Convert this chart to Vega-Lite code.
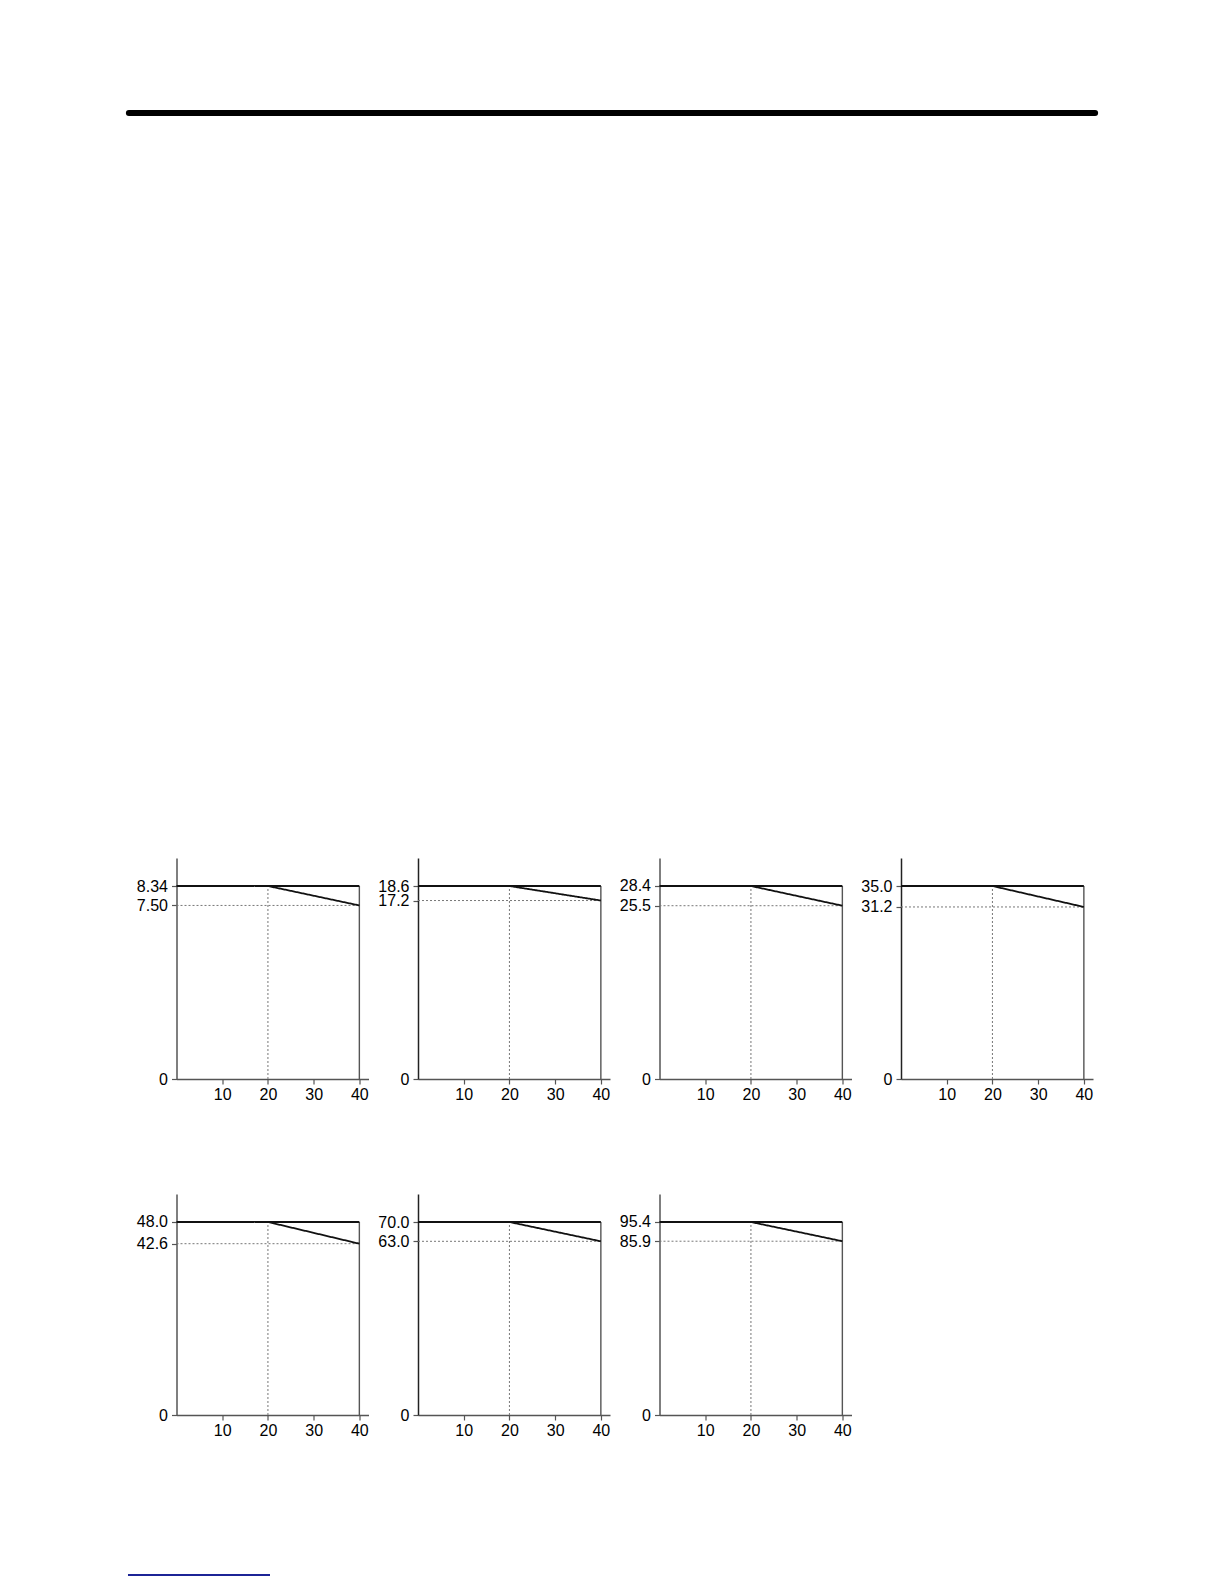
{
  "$schema": "https://vega.github.io/schema/vega-lite/v6.json",
  "background": "white",
  "padding": {"left": 125, "top": 110, "right": 5, "bottom": 2},
  "bounds": "flush",
  "spacing": 336,
  "config": {
    "view": {"stroke": null},
    "axis": {
      "grid": false,
      "title": null,
      "domainColor": "#555555",
      "domainWidth": 1.5,
      "tickColor": "#555555",
      "tickWidth": 1.2,
      "tickSize": 5,
      "labelFont": "Liberation Sans",
      "labelColor": "black",
      "labelOverlap": false,
      "labelFlush": false,
      "labelBound": false
    },
    "axisX": {"labelFontSize": 16, "labelPadding": 2},
    "axisY": {"labelFontSize": 16, "labelPadding": 4, "labelExpr": "datum.value == 0 ? '0' : format(datum.value, '.3r')"},
    "rule": {"strokeCap": "butt"}
  },
  "datasets": {
    "page": [
      {"part": "header", "start": 0, "end": 1, "level": 1},
      {"part": "footer", "start": 0, "end": 1, "level": 0}
    ],
    "segments": [
      {"id": 1, "kind": "dotted", "load": 20, "output": 0, "load_end": 20, "output_end": 8.34},
      {"id": 1, "kind": "dotted", "load": 0, "output": 7.50, "load_end": 40, "output_end": 7.50},
      {"id": 1, "kind": "edge", "load": 40, "output": 0, "load_end": 40, "output_end": 8.34},
      {"id": 1, "kind": "solid", "load": 0, "output": 8.34, "load_end": 40, "output_end": 8.34},
      {"id": 1, "kind": "solid", "load": 20, "output": 8.34, "load_end": 40, "output_end": 7.50},
      {"id": 2, "kind": "dotted", "load": 20, "output": 0, "load_end": 20, "output_end": 18.6},
      {"id": 2, "kind": "dotted", "load": 0, "output": 17.2, "load_end": 40, "output_end": 17.2},
      {"id": 2, "kind": "edge", "load": 40, "output": 0, "load_end": 40, "output_end": 18.6},
      {"id": 2, "kind": "solid", "load": 0, "output": 18.6, "load_end": 40, "output_end": 18.6},
      {"id": 2, "kind": "solid", "load": 20, "output": 18.6, "load_end": 40, "output_end": 17.2},
      {"id": 3, "kind": "dotted", "load": 20, "output": 0, "load_end": 20, "output_end": 28.4},
      {"id": 3, "kind": "dotted", "load": 0, "output": 25.5, "load_end": 40, "output_end": 25.5},
      {"id": 3, "kind": "edge", "load": 40, "output": 0, "load_end": 40, "output_end": 28.4},
      {"id": 3, "kind": "solid", "load": 0, "output": 28.4, "load_end": 40, "output_end": 28.4},
      {"id": 3, "kind": "solid", "load": 20, "output": 28.4, "load_end": 40, "output_end": 25.5},
      {"id": 4, "kind": "dotted", "load": 20, "output": 0, "load_end": 20, "output_end": 35.0},
      {"id": 4, "kind": "dotted", "load": 0, "output": 31.2, "load_end": 40, "output_end": 31.2},
      {"id": 4, "kind": "edge", "load": 40, "output": 0, "load_end": 40, "output_end": 35.0},
      {"id": 4, "kind": "solid", "load": 0, "output": 35.0, "load_end": 40, "output_end": 35.0},
      {"id": 4, "kind": "solid", "load": 20, "output": 35.0, "load_end": 40, "output_end": 31.2},
      {"id": 5, "kind": "dotted", "load": 20, "output": 0, "load_end": 20, "output_end": 48.0},
      {"id": 5, "kind": "dotted", "load": 0, "output": 42.6, "load_end": 40, "output_end": 42.6},
      {"id": 5, "kind": "edge", "load": 40, "output": 0, "load_end": 40, "output_end": 48.0},
      {"id": 5, "kind": "solid", "load": 0, "output": 48.0, "load_end": 40, "output_end": 48.0},
      {"id": 5, "kind": "solid", "load": 20, "output": 48.0, "load_end": 40, "output_end": 42.6},
      {"id": 6, "kind": "dotted", "load": 20, "output": 0, "load_end": 20, "output_end": 70.0},
      {"id": 6, "kind": "dotted", "load": 0, "output": 63.0, "load_end": 40, "output_end": 63.0},
      {"id": 6, "kind": "edge", "load": 40, "output": 0, "load_end": 40, "output_end": 70.0},
      {"id": 6, "kind": "solid", "load": 0, "output": 70.0, "load_end": 40, "output_end": 70.0},
      {"id": 6, "kind": "solid", "load": 20, "output": 70.0, "load_end": 40, "output_end": 63.0},
      {"id": 7, "kind": "dotted", "load": 20, "output": 0, "load_end": 20, "output_end": 95.4},
      {"id": 7, "kind": "dotted", "load": 0, "output": 85.9, "load_end": 40, "output_end": 85.9},
      {"id": 7, "kind": "edge", "load": 40, "output": 0, "load_end": 40, "output_end": 95.4},
      {"id": 7, "kind": "solid", "load": 0, "output": 95.4, "load_end": 40, "output_end": 95.4},
      {"id": 7, "kind": "solid", "load": 20, "output": 95.4, "load_end": 40, "output_end": 85.9}
    ]
  },
  "vconcat": [
    {
      "width": 972,
      "height": 409,
      "data": {"name": "page"},
      "transform": [{"filter": "datum.part == 'header'"}],
      "mark": {"type": "rule", "color": "black", "strokeWidth": 6, "strokeCap": "round"},
      "encoding": {
        "x": {"field": "start", "type": "quantitative", "scale": {"domain": [-0.003, 1.003]}, "axis": null},
        "x2": {"field": "end"},
        "y": {"field": "level", "type": "quantitative", "scale": {"domain": [0, 1]}, "axis": null}
      }
    },
    {
      "bounds": "flush",
      "spacing": 49.5,
      "hconcat": [
        {"width": 1, "height": 221, "data": {"name": "page"}, "transform": [{"filter": "datum.part == 'header'"}],
         "mark": {"type": "rule", "opacity": 0},
         "encoding": {"y": {"field": "level", "type": "quantitative", "axis": null}}},
        {
          "width": 192, "height": 221,
          "data": {"name": "segments"},
          "transform": [{"filter": "datum.id == 1"}],
          "mark": "rule",
          "encoding": {
            "x": {"field": "load", "type": "quantitative", "scale": {"domain": [0, 42], "nice": false}, "axis": {"values": [10, 20, 30, 40]}},
            "x2": {"field": "load_end"},
            "y": {"field": "output", "type": "quantitative", "scale": {"domain": [0, 9.55], "nice": false}, "axis": {"values": [0, 7.5, 8.34]}},
            "y2": {"field": "output_end"},
            "color": {"field": "kind", "type": "nominal", "scale": {"domain": ["dotted", "edge", "solid"], "range": ["#777777", "#555555", "#111111"]}, "legend": null},
            "strokeDash": {"field": "kind", "type": "nominal", "scale": {"domain": ["dotted", "edge", "solid"], "range": [[2, 2], [1, 0], [1, 0]]}, "legend": null},
            "strokeWidth": {"field": "kind", "type": "nominal", "scale": {"domain": ["dotted", "edge", "solid"], "range": [1, 1.8, 1.5]}, "legend": null}
          }
        },
        {
          "width": 192, "height": 221,
          "data": {"name": "segments"},
          "transform": [{"filter": "datum.id == 2"}],
          "mark": "rule",
          "encoding": {
            "x": {"field": "load", "type": "quantitative", "scale": {"domain": [0, 42], "nice": false}, "axis": {"values": [10, 20, 30, 40]}},
            "x2": {"field": "load_end"},
            "y": {"field": "output", "type": "quantitative", "scale": {"domain": [0, 21.3], "nice": false}, "axis": {"values": [0, 17.2, 18.6], "domainColor": "#222222"}},
            "y2": {"field": "output_end"},
            "color": {"field": "kind", "type": "nominal", "scale": {"domain": ["dotted", "edge", "solid"], "range": ["#777777", "#333333", "#111111"]}, "legend": null},
            "strokeDash": {"field": "kind", "type": "nominal", "scale": {"domain": ["dotted", "edge", "solid"], "range": [[2, 2], [1, 0], [1, 0]]}, "legend": null},
            "strokeWidth": {"field": "kind", "type": "nominal", "scale": {"domain": ["dotted", "edge", "solid"], "range": [1, 1.4, 1.5]}, "legend": null}
          }
        },
        {
          "width": 192, "height": 221,
          "data": {"name": "segments"},
          "transform": [{"filter": "datum.id == 3"}],
          "mark": "rule",
          "encoding": {
            "x": {"field": "load", "type": "quantitative", "scale": {"domain": [0, 42], "nice": false}, "axis": {"values": [10, 20, 30, 40]}},
            "x2": {"field": "load_end"},
            "y": {"field": "output", "type": "quantitative", "scale": {"domain": [0, 32.52], "nice": false}, "axis": {"values": [0, 25.5, 28.4]}},
            "y2": {"field": "output_end"},
            "color": {"field": "kind", "type": "nominal", "scale": {"domain": ["dotted", "edge", "solid"], "range": ["#777777", "#555555", "#111111"]}, "legend": null},
            "strokeDash": {"field": "kind", "type": "nominal", "scale": {"domain": ["dotted", "edge", "solid"], "range": [[2, 2], [1, 0], [1, 0]]}, "legend": null},
            "strokeWidth": {"field": "kind", "type": "nominal", "scale": {"domain": ["dotted", "edge", "solid"], "range": [1, 1.8, 1.5]}, "legend": null}
          }
        },
        {
          "width": 192, "height": 221,
          "data": {"name": "segments"},
          "transform": [{"filter": "datum.id == 4"}],
          "mark": "rule",
          "encoding": {
            "x": {"field": "load", "type": "quantitative", "scale": {"domain": [0, 42], "nice": false}, "axis": {"values": [10, 20, 30, 40]}},
            "x2": {"field": "load_end"},
            "y": {"field": "output", "type": "quantitative", "scale": {"domain": [0, 40.08], "nice": false}, "axis": {"values": [0, 31.2, 35.0], "domainColor": "#222222"}},
            "y2": {"field": "output_end"},
            "color": {"field": "kind", "type": "nominal", "scale": {"domain": ["dotted", "edge", "solid"], "range": ["#777777", "#555555", "#111111"]}, "legend": null},
            "strokeDash": {"field": "kind", "type": "nominal", "scale": {"domain": ["dotted", "edge", "solid"], "range": [[2, 2], [1, 0], [1, 0]]}, "legend": null},
            "strokeWidth": {"field": "kind", "type": "nominal", "scale": {"domain": ["dotted", "edge", "solid"], "range": [1, 1.8, 1.5]}, "legend": null}
          }
        }
      ]
    },
    {
      "bounds": "flush",
      "spacing": 49.5,
      "hconcat": [
        {"width": 1, "height": 221, "data": {"name": "page"}, "transform": [{"filter": "datum.part == 'header'"}],
         "mark": {"type": "rule", "opacity": 0},
         "encoding": {"y": {"field": "level", "type": "quantitative", "axis": null}}},
        {
          "width": 192, "height": 221,
          "data": {"name": "segments"},
          "transform": [{"filter": "datum.id == 5"}],
          "mark": "rule",
          "encoding": {
            "x": {"field": "load", "type": "quantitative", "scale": {"domain": [0, 42], "nice": false}, "axis": {"values": [10, 20, 30, 40]}},
            "x2": {"field": "load_end"},
            "y": {"field": "output", "type": "quantitative", "scale": {"domain": [0, 54.96], "nice": false}, "axis": {"values": [0, 42.6, 48.0]}},
            "y2": {"field": "output_end"},
            "color": {"field": "kind", "type": "nominal", "scale": {"domain": ["dotted", "edge", "solid"], "range": ["#777777", "#555555", "#111111"]}, "legend": null},
            "strokeDash": {"field": "kind", "type": "nominal", "scale": {"domain": ["dotted", "edge", "solid"], "range": [[2, 2], [1, 0], [1, 0]]}, "legend": null},
            "strokeWidth": {"field": "kind", "type": "nominal", "scale": {"domain": ["dotted", "edge", "solid"], "range": [1, 1.8, 1.5]}, "legend": null}
          }
        },
        {
          "width": 192, "height": 221,
          "data": {"name": "segments"},
          "transform": [{"filter": "datum.id == 6"}],
          "mark": "rule",
          "encoding": {
            "x": {"field": "load", "type": "quantitative", "scale": {"domain": [0, 42], "nice": false}, "axis": {"values": [10, 20, 30, 40]}},
            "x2": {"field": "load_end"},
            "y": {"field": "output", "type": "quantitative", "scale": {"domain": [0, 80.16], "nice": false}, "axis": {"values": [0, 63.0, 70.0], "domainColor": "#222222"}},
            "y2": {"field": "output_end"},
            "color": {"field": "kind", "type": "nominal", "scale": {"domain": ["dotted", "edge", "solid"], "range": ["#777777", "#333333", "#111111"]}, "legend": null},
            "strokeDash": {"field": "kind", "type": "nominal", "scale": {"domain": ["dotted", "edge", "solid"], "range": [[2, 2], [1, 0], [1, 0]]}, "legend": null},
            "strokeWidth": {"field": "kind", "type": "nominal", "scale": {"domain": ["dotted", "edge", "solid"], "range": [1, 1.4, 1.5]}, "legend": null}
          }
        },
        {
          "width": 192, "height": 221,
          "data": {"name": "segments"},
          "transform": [{"filter": "datum.id == 7"}],
          "mark": "rule",
          "encoding": {
            "x": {"field": "load", "type": "quantitative", "scale": {"domain": [0, 42], "nice": false}, "axis": {"values": [10, 20, 30, 40]}},
            "x2": {"field": "load_end"},
            "y": {"field": "output", "type": "quantitative", "scale": {"domain": [0, 109.24], "nice": false}, "axis": {"values": [0, 85.9, 95.4]}},
            "y2": {"field": "output_end"},
            "color": {"field": "kind", "type": "nominal", "scale": {"domain": ["dotted", "edge", "solid"], "range": ["#777777", "#333333", "#111111"]}, "legend": null},
            "strokeDash": {"field": "kind", "type": "nominal", "scale": {"domain": ["dotted", "edge", "solid"], "range": [[2, 2], [1, 0], [1, 0]]}, "legend": null},
            "strokeWidth": {"field": "kind", "type": "nominal", "scale": {"domain": ["dotted", "edge", "solid"], "range": [1, 1.4, 1.5]}, "legend": null}
          }
        }
      ]
    },
    {
      "width": 144,
      "height": 45,
      "data": {"name": "page"},
      "transform": [{"filter": "datum.part == 'footer'"}],
      "mark": {"type": "rule", "color": "#1c2496", "strokeWidth": 2},
      "encoding": {
        "x": {"field": "start", "type": "quantitative", "scale": {"domain": [-0.014, 1]}, "axis": null},
        "x2": {"field": "end"},
        "y": {"field": "level", "type": "quantitative", "scale": {"domain": [0, 1]}, "axis": null}
      }
    }
  ]
}
